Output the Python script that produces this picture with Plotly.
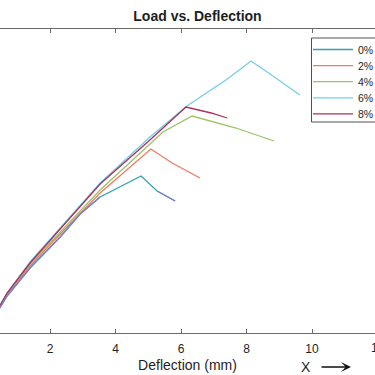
import plotly.graph_objects as go

# Data (deflection in mm, load in arbitrary units)
x_0 = [0, 0.69, 1.39, 2.31, 2.92, 3.53, 4.78, 5.27, 5.82]
y_0 = [0, 3.7, 6.5, 9.6, 11.9, 13.6, 15.7, 14.2, 13.2]

x_2 = [0, 0.69, 1.39, 2.31, 3.53, 5.08, 5.73, 6.58]
y_2 = [0, 3.9, 6.7, 9.9, 14.0, 18.4, 17.0, 15.5]

x_4 = [0, 0.69, 1.39, 2.31, 3.53, 5.45, 6.34, 7.68, 8.84]
y_4 = [0, 4.0, 6.9, 10.1, 14.3, 20.1, 21.7, 20.5, 19.2]

x_6 = [0, 0.69, 1.39, 2.31, 3.53, 5.05, 6.18, 7.37, 8.14, 8.72, 9.63]
y_6 = [0, 4.0, 7.1, 10.5, 15.0, 19.6, 22.7, 25.3, 27.2, 25.9, 23.8]

x_8 = [0, 0.69, 1.39, 2.31, 3.53, 5.05, 6.15, 6.92, 7.41]
y_8 = [0, 4.0, 7.0, 10.4, 14.9, 19.3, 22.6, 22.0, 21.5]

series_names = ["0%", "2%", "4%", "6%", "8%"]
series_colors = ["#2fa3b5", "#ee7a62", "#9dc264", "#72cfe6", "#ad2d5a"]
overlay_color = "#7f7fc6"

x_tick_vals = [2, 4, 6, 8, 10]
x_tick_text = ["2", "4", "6", "8", "10"]

W, H = 375, 375
PT = 29                 # plot top (page px 29)
PB = H - 333            # plot bottom at page px 333
PW, PH = W, H - PT - PB
px_per_unit = 32.75
x_start = 2 - 50 / px_per_unit
x_end = x_start + PW / px_per_unit


def py2paper(py):   # page pixel y -> paper y
    return (333 - py) / PH


def px2paper(px):   # page pixel x -> paper x
    return px / PW


fig = go.Figure()
xs = [x_0, x_2, x_4, x_6, x_8]
ys = [y_0, y_2, y_4, y_6, y_8]
legend_ids = ["legend", "legend2", "legend3", "legend4", "legend5"]
for i in range(5):
    fig.add_trace(go.Scatter(x=xs[i], y=ys[i], mode="lines", name=series_names[i],
                             line=dict(color=series_colors[i], width=1.3),
                             legend=legend_ids[i]))

# purple overlay part of the 0% curve
ov_x = x_0[:6] + [None] + x_0[7:]
ov_y = y_0[:6] + [None] + y_0[7:]
fig.add_trace(go.Scatter(x=ov_x, y=ov_y, mode="lines", showlegend=False,
                         line=dict(color=overlay_color, width=1.3), connectgaps=False))

font_fam = "Liberation Sans, Arial, sans-serif"
txt_col = "#1e1e1e"
axis_col = "#6a6a6a"

rows_px = [49.5, 65.6, 81.7, 97.8, 113.9]
legend_cfg = {}
for i, lid in enumerate(legend_ids):
    legend_cfg[lid] = dict(x=px2paper(308), y=py2paper(rows_px[i]), xanchor="left", yanchor="middle",
                           bgcolor="rgba(0,0,0,0)", borderwidth=0,
                           font=dict(family=font_fam, size=10.5, color=txt_col),
                           itemwidth=40, tracegroupgap=0)

fig.update_layout(
    width=W, height=H,
    margin=dict(l=0, r=0, t=PT, b=PB, pad=0, autoexpand=False),
    paper_bgcolor="white", plot_bgcolor="white",
    font=dict(family=font_fam, color=txt_col),
    showlegend=True,
    title=dict(text="<b>Load vs. Deflection</b>", x=197.5 / W, xanchor="center",
               y=1 - 16 / H, yanchor="middle", font=dict(size=14, family=font_fam, color=txt_col)),
    xaxis=dict(range=[x_start, x_end], tickvals=x_tick_vals, ticktext=x_tick_text,
               ticks="inside", ticklen=4, tickwidth=1, tickcolor=axis_col,
               showline=True, linecolor=axis_col, linewidth=1, mirror="ticks",
               showgrid=False, zeroline=False, ticklabelstandoff=5,
               tickfont=dict(size=12, family=font_fam, color=txt_col),
               title=dict(text="Deflection (mm)", font=dict(size=14, family=font_fam, color=txt_col),
                          standoff=4)),
    yaxis=dict(range=[0, 30.4], showline=False, showticklabels=False, ticks="",
               showgrid=False, zeroline=False),
    **legend_cfg,
)

# legend frame (right edge runs off the page)
fig.add_shape(type="rect", xref="paper", yref="paper",
              x0=px2paper(311.5), x1=1.05, y0=py2paper(122), y1=py2paper(38),
              line=dict(color="#505050", width=1), fillcolor="rgba(0,0,0,0)", layer="above")

# partially visible "12" tick label at the right edge
fig.add_annotation(text="12", xref="paper", yref="paper", x=px2paper(50 + 10 * px_per_unit),
                   y=py2paper(348), xanchor="center", yanchor="middle", showarrow=False,
                   font=dict(size=12, family=font_fam, color=txt_col))

# "X -->" note
fig.add_annotation(text="X", xref="paper", yref="paper", x=px2paper(306), y=py2paper(367),
                   xanchor="center", yanchor="middle", showarrow=False,
                   font=dict(size=14, family=font_fam, color=txt_col))
fig.add_annotation(text="", xref="paper", yref="paper", x=px2paper(351), y=py2paper(367),
                   ax=-31, ay=0, showarrow=True, arrowhead=3, arrowsize=1.3,
                   arrowwidth=1.3, arrowcolor="#111111", standoff=0)

# remove the browser's default 8px body margin so the 375x375 figure fills the window
fig.write_html("out.html", config={"displayModeBar": False},
               post_script="document.body.style.margin='0';document.body.style.padding='0';")
